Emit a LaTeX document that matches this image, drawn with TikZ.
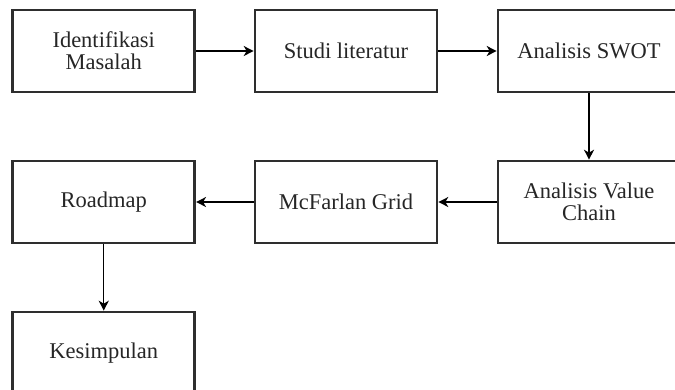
\documentclass[tikz,border=0pt]{standalone}
\usepackage{fontspec}
\setmainfont{Liberation Serif}
\usetikzlibrary{arrows.meta}
\definecolor{boxline}{HTML}{2E2E2E}
\tikzset{
  stepbox/.style={draw=boxline, line width=2.6pt, rectangle, minimum width=182pt, minimum height=82pt, inner sep=0pt, align=center, font=\fontsize{22.5}{22}\selectfont, text=black!85},
  conn/.style={line width=1.4pt, -{Stealth[length=10pt,width=10pt,inset=3pt]}}
}
\begin{document}
\begin{tikzpicture}[x=1pt,y=1pt]
\useasboundingbox (0,0) rectangle (675,-389);
\clip (0,0) rectangle (675,-389);
\node[stepbox] (a) at (103.75,-51) {Identifikasi\\Masalah};
\node[stepbox] (b) at (346,-51) {Studi literatur};
\node[stepbox] (c) at (589,-51) {Analisis SWOT};
\node[stepbox] (d) at (589,-202) {Analisis Value\\Chain};
\node[stepbox] (e) at (346,-202) {McFarlan Grid};
\node[stepbox] (f) at (103.75,-202) {Roadmap};
\node[stepbox] (g) at (103.75,-353) {Kesimpulan};
\draw[conn] (a) -- (b);
\draw[conn] (b) -- (c);
\draw[conn] (c) -- (d);
\draw[conn] (d) -- (e);
\draw[conn] (e) -- (f);
\draw[conn] (f) -- (g);
\end{tikzpicture}
\end{document}
